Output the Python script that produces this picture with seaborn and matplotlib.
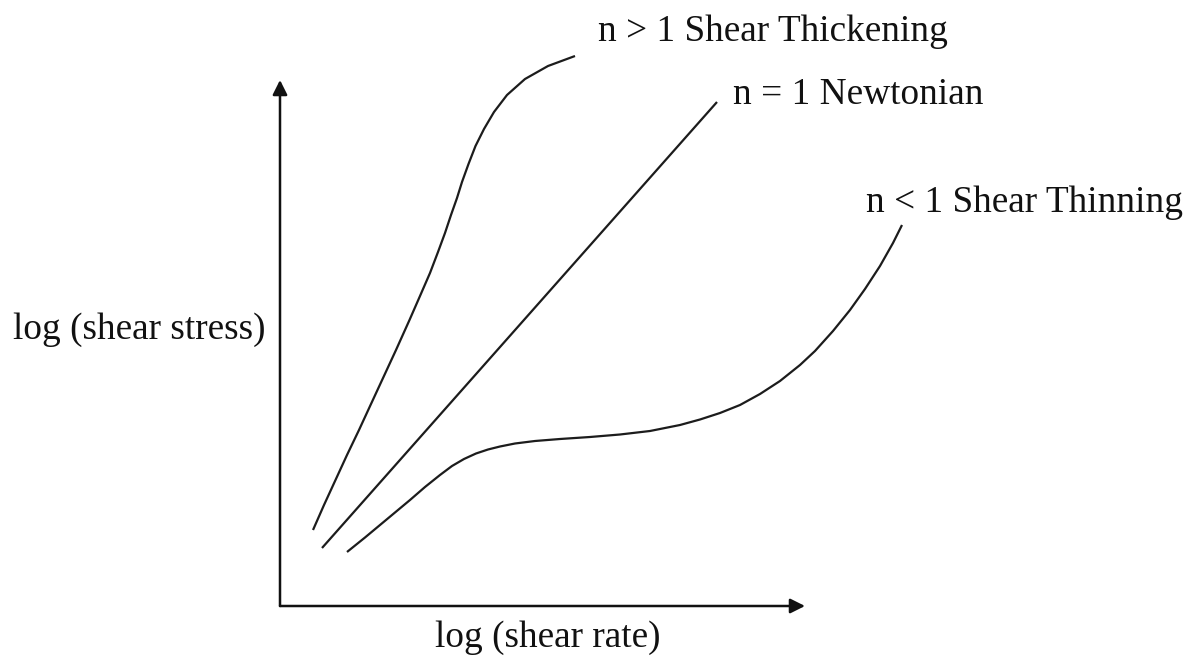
import matplotlib
matplotlib.use("Agg")
import matplotlib.pyplot as plt
import seaborn as sns
import pandas as pd

sns.set_theme(style="white")
plt.rcParams['font.family'] = ['Liberation Serif', 'DejaVu Serif']

# Schematic data: x = log(shear rate), y = log(shear stress) (arbitrary units)
thick_x = [33, 44, 55.5, 67, 79, 91, 103.5, 116, 129.5, 140, 150, 158, 165, 171, 177, 182,
           188.5, 195.5, 204, 214, 227, 245, 268, 295]
thick_y = [76, 101, 126, 151, 176, 202, 229, 256, 286, 310, 333, 354, 373, 391, 408, 424,
           442, 460, 477, 494, 511, 527, 540, 550]

newt_x = [42, 437]
newt_y = [58, 504]

thin_x = [67, 85, 100, 115, 130, 145, 160, 172, 184, 196, 208, 220, 235, 255, 280, 310, 340,
          370, 400, 420, 440, 460, 480, 500, 520, 535, 553, 570, 585, 600, 613, 622]
thin_y = [54, 68.5, 81, 93.5, 106, 119, 131, 140, 147, 152.5, 156.5, 159.5, 162.5, 165, 167,
          169, 171.5, 175, 181, 186.5, 193, 201, 212, 225, 241, 255, 275, 296, 317, 340, 363, 381]

labels = ["n > 1 Shear Thickening", "n = 1 Newtonian", "n < 1 Shear Thinning"]
label_x = [318, 453, 586]
label_y = [574, 511, 403]

xlabel = "log (shear rate)"
ylabel = "log (shear stress)"

df = pd.concat([
    pd.DataFrame({"x": thick_x, "y": thick_y, "curve": labels[0]}),
    pd.DataFrame({"x": newt_x, "y": newt_y, "curve": labels[1]}),
    pd.DataFrame({"x": thin_x, "y": thin_y, "curve": labels[2]}),
])

W, H = 1195, 659
fig = plt.figure(figsize=(W / 100, H / 100), dpi=100)
fig.patch.set_facecolor("white")
ax = fig.add_axes([280 / W, 53 / H, 525 / W, 526 / H])
ax.set_xlim(0, 525)
ax.set_ylim(0, 526)
ax.set_facecolor("white")

sns.lineplot(data=df, x="x", y="y", units="curve", estimator=None, sort=False,
             color="#1c1c1c", linewidth=1.6, ax=ax, legend=False)
for line in ax.lines:
    line.set_clip_on(False)
    line.set_solid_joinstyle("round")
    line.set_solid_capstyle("butt")

for s in ax.spines.values():
    s.set_visible(False)
ax.set_xticks([])
ax.set_yticks([])
ax.set_xlabel("")
ax.set_ylabel("")

arrow = dict(arrowstyle="-|>", color="#111111", lw=1.8, mutation_scale=22, shrinkA=0, shrinkB=0)
ax.annotate("", xy=(1, 0), xytext=(0, 0), xycoords="axes fraction", arrowprops=arrow)
ax.annotate("", xy=(0, 1), xytext=(0, 0), xycoords="axes fraction", arrowprops=arrow)

fs = 26.8
for t, tx, ty in zip(labels, label_x, label_y):
    ax.text(tx, ty, t, ha="left", va="center", fontsize=fs, color="#111111", clip_on=False)

ax.text(268, -32, xlabel, ha="center", va="center", fontsize=fs, color="#111111", clip_on=False)
ax.text(-267, 276, ylabel, ha="left", va="center", fontsize=fs, color="#111111", clip_on=False)

fig.savefig("out.png", dpi=100, facecolor="white")
